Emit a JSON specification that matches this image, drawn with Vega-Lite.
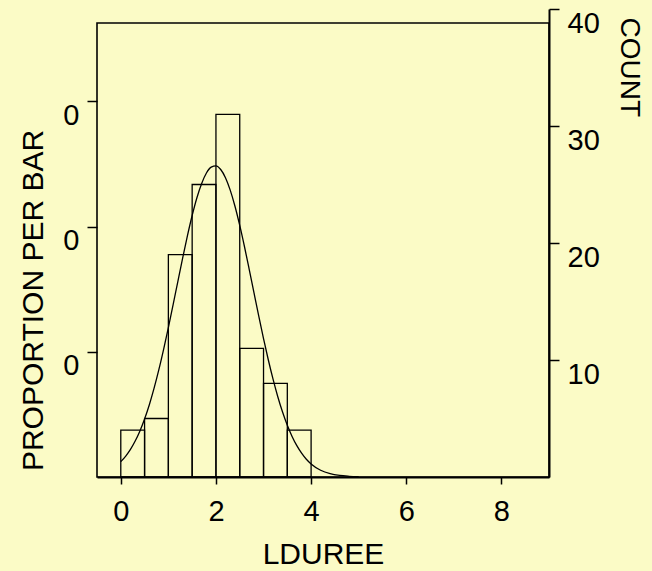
{
  "$schema": "https://vega.github.io/schema/vega-lite/v6.json",
  "width": 452,
  "height": 468,
  "autosize": {"type": "none"},
  "padding": {"left": 97, "top": 9, "right": 103, "bottom": 94},
  "background": "#FBFBC6",
  "view": {"stroke": null},
  "config": {
    "font": "Liberation Sans",
    "axis": {
      "grid": false,
      "domainColor": "#000",
      "tickColor": "#000",
      "labelColor": "#000",
      "titleColor": "#000",
      "labelFont": "Liberation Sans",
      "titleFont": "Liberation Sans",
      "labelFontSize": 29,
      "titleFontSize": 29,
      "titleFontWeight": "normal",
      "tickWidth": 1.5,
      "domainWidth": 2
    }
  },
  "layer": [
    {
      "data": {"values": [{"xa": -0.5, "xb": 9, "p1": 0, "p2": 0.3626}]},
      "mark": {"type": "rect", "fillOpacity": 0, "stroke": "#000", "strokeWidth": 1.6},
      "encoding": {
        "x": {"field": "xa", "type": "quantitative", "scale": {"domain": [-0.5, 9], "nice": false, "zero": false},
          "axis": {"title": "LDUREE", "values": [0, 2, 4, 6, 8], "tickSize": 7, "labelBaseline": "alphabetic", "labelPadding": 36, "labelAngle": 0, "titleBaseline": "alphabetic", "titleY": 86, "titleFontSize": 30}},
        "x2": {"field": "xb"},
        "y": {"field": "p1", "type": "quantitative", "scale": {"domain": [0, 0.37383], "nice": false, "zero": false},
          "axis": {"orient": "left", "title": "PROPORTION PER BAR", "values": [0.1, 0.2, 0.3], "format": ".0f", "domain": false, "tickSize": 10, "labelPadding": 8, "labelBaseline": "top",
            "titleFontSize": 30, "titleAngle": 270, "titleAlign": "center", "titleBaseline": "alphabetic", "titleX": -55, "titleY": 291}},
        "y2": {"field": "p2"}
      }
    },
    {
      "data": {"values": [
        {"start": 0, "end": 0.5, "count": 4},
        {"start": 0.5, "end": 1, "count": 5},
        {"start": 1, "end": 1.5, "count": 19},
        {"start": 1.5, "end": 2, "count": 25},
        {"start": 2, "end": 2.5, "count": 31},
        {"start": 2.5, "end": 3, "count": 11},
        {"start": 3, "end": 3.5, "count": 8},
        {"start": 3.5, "end": 4, "count": 4}
      ]},
      "mark": {"type": "rect", "fillOpacity": 0, "stroke": "#000", "strokeWidth": 1.3},
      "encoding": {
        "x": {"field": "start", "type": "quantitative", "title": "LDUREE", "scale": {"domain": [-0.5, 9], "nice": false, "zero": false}},
        "x2": {"field": "end"},
        "y": {"field": "count", "type": "quantitative", "scale": {"domain": [0, 40], "nice": false},
          "axis": {"orient": "right", "title": "COUNT", "values": [10, 20, 30, 40], "tickSize": 10, "labelPadding": 8, "labelBaseline": "top",
            "titleFontSize": 28, "titleAngle": 90, "titleAlign": "left", "titleBaseline": "alphabetic", "titleX": 71, "titleY": 8}},
        "y2": {"datum": 0}
      }
    },
    {
      "data": {"values": [
        {"x": 0, "c": 1.31}, {"x": 0.1, "c": 1.77}, {"x": 0.2, "c": 2.34}, {"x": 0.3, "c": 3.05},
        {"x": 0.4, "c": 3.92}, {"x": 0.5, "c": 4.96}, {"x": 0.6, "c": 6.18}, {"x": 0.7, "c": 7.59},
        {"x": 0.8, "c": 9.17}, {"x": 0.9, "c": 10.91}, {"x": 1.0, "c": 12.77}, {"x": 1.1, "c": 14.73},
        {"x": 1.2, "c": 16.73}, {"x": 1.3, "c": 18.71}, {"x": 1.4, "c": 20.61}, {"x": 1.5, "c": 22.35},
        {"x": 1.6, "c": 23.87}, {"x": 1.7, "c": 25.09}, {"x": 1.8, "c": 25.98}, {"x": 1.9, "c": 26.48},
        {"x": 2.0, "c": 26.59}, {"x": 2.1, "c": 26.28}, {"x": 2.2, "c": 25.58}, {"x": 2.3, "c": 24.52},
        {"x": 2.4, "c": 23.14}, {"x": 2.5, "c": 21.5}, {"x": 2.6, "c": 19.68}, {"x": 2.7, "c": 17.73},
        {"x": 2.8, "c": 15.73}, {"x": 2.9, "c": 13.75}, {"x": 3.0, "c": 11.83}, {"x": 3.1, "c": 10.02},
        {"x": 3.2, "c": 8.36}, {"x": 3.3, "c": 6.86}, {"x": 3.4, "c": 5.55}, {"x": 3.5, "c": 4.42},
        {"x": 3.6, "c": 3.47}, {"x": 3.7, "c": 2.68}, {"x": 3.8, "c": 2.04}, {"x": 3.9, "c": 1.52},
        {"x": 4.0, "c": 1.12}, {"x": 4.2, "c": 0.58}, {"x": 4.4, "c": 0.28}, {"x": 4.6, "c": 0.13},
        {"x": 4.8, "c": 0.06}, {"x": 5.0, "c": 0.02}
      ]},
      "mark": {"type": "line", "color": "#000", "strokeWidth": 1.3, "interpolate": "monotone"},
      "encoding": {
        "x": {"field": "x", "type": "quantitative", "title": "LDUREE", "scale": {"domain": [-0.5, 9], "nice": false, "zero": false}},
        "y": {"field": "c", "type": "quantitative", "scale": {"domain": [0, 40], "nice": false}, "axis": null}
      }
    }
  ],
  "resolve": {"scale": {"y": "independent"}}
}
